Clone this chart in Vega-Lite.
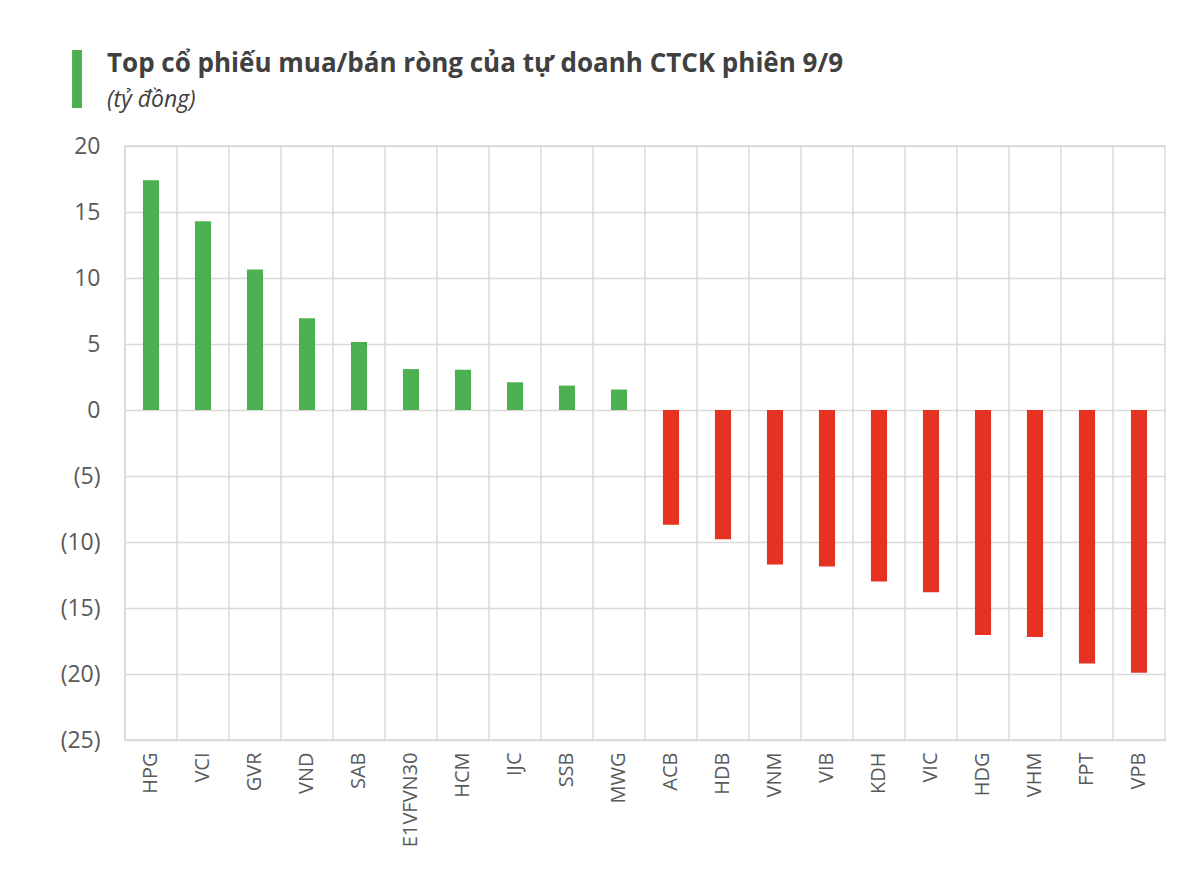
{
  "$schema": "https://vega.github.io/schema/vega-lite/v6.json",
  "width": 1040,
  "height": 594,
  "autosize": {"type": "none"},
  "padding": {"left": 125, "top": 146, "right": 35, "bottom": 143},
  "background": "white",
  "config": {
    "view": {"stroke": "#d9d9d9", "strokeWidth": 1.5},
    "font": "Open Sans"
  },
  "title": {
    "text": "Top cổ phiếu mua/bán ròng của tự doanh CTCK phiên 9/9",
    "subtitle": "(tỷ đồng)",
    "anchor": "start",
    "frame": "group",
    "dx": -18,
    "offset": -62,
    "font": "Open Sans",
    "fontSize": 26,
    "fontWeight": "bold",
    "color": "#404040",
    "subtitleFont": "Open Sans",
    "subtitleFontSize": 23,
    "subtitleFontStyle": "italic",
    "subtitleColor": "#404040",
    "subtitlePadding": 12
  },
  "data": {
    "values": [
      {"ticker": "HPG", "value": 17.4, "side": "mua"},
      {"ticker": "VCI", "value": 14.3, "side": "mua"},
      {"ticker": "GVR", "value": 10.65, "side": "mua"},
      {"ticker": "VND", "value": 6.95, "side": "mua"},
      {"ticker": "SAB", "value": 5.15, "side": "mua"},
      {"ticker": "E1VFVN30", "value": 3.1, "side": "mua"},
      {"ticker": "HCM", "value": 3.05, "side": "mua"},
      {"ticker": "IJC", "value": 2.1, "side": "mua"},
      {"ticker": "SSB", "value": 1.85, "side": "mua"},
      {"ticker": "MWG", "value": 1.55, "side": "mua"},
      {"ticker": "ACB", "value": -8.7, "side": "bán"},
      {"ticker": "HDB", "value": -9.8, "side": "bán"},
      {"ticker": "VNM", "value": -11.7, "side": "bán"},
      {"ticker": "VIB", "value": -11.85, "side": "bán"},
      {"ticker": "KDH", "value": -13.0, "side": "bán"},
      {"ticker": "VIC", "value": -13.8, "side": "bán"},
      {"ticker": "HDG", "value": -17.05, "side": "bán"},
      {"ticker": "VHM", "value": -17.2, "side": "bán"},
      {"ticker": "FPT", "value": -19.2, "side": "bán"},
      {"ticker": "VPB", "value": -19.9, "side": "bán"}
    ]
  },
  "layer": [
    {
      "mark": {"type": "rule", "color": "#d9d9d9", "strokeWidth": 1.5},
      "encoding": {
        "x": {"field": "ticker", "type": "nominal", "sort": null, "bandPosition": 0}
      }
    },
    {
      "mark": {"type": "bar", "width": {"band": 0.31}},
      "encoding": {
        "x": {
          "field": "ticker",
          "type": "nominal",
          "sort": null,
          "scale": {"paddingInner": 0, "paddingOuter": 0},
          "axis": {
            "title": null,
            "labelAngle": -90,
            "labelFontSize": 20,
            "labelColor": "#595959",
            "labelPadding": 12,
            "ticks": false,
            "domain": false,
            "grid": false
          }
        },
        "y": {
          "field": "value",
          "type": "quantitative",
          "scale": {"domain": [-25, 20], "nice": false, "zero": false},
          "axis": {
            "title": null,
            "values": [-25, -20, -15, -10, -5, 0, 5, 10, 15, 20],
            "labelExpr": "datum.value < 0 ? '(' + format(-datum.value, 'd') + ')' : format(datum.value, 'd')",
            "labelFontSize": 23,
            "labelColor": "#595959",
            "labelPadding": 25,
            "ticks": false,
            "domain": false,
            "grid": true,
            "gridColor": "#d9d9d9",
            "gridWidth": 1.5
          }
        },
        "color": {
          "field": "side",
          "type": "nominal",
          "scale": {"domain": ["mua", "bán"], "range": ["#4caf50", "#e53222"]},
          "legend": {
            "values": ["mua"],
            "title": null,
            "orient": "none",
            "legendX": -77,
            "legendY": -96,
            "padding": 0,
            "symbolType": "M-0.17,-1L0.17,-1L0.17,1L-0.17,1Z",
            "symbolSize": 3364,
            "symbolStrokeWidth": 0,
            "symbolOpacity": 1,
            "labelExpr": "''",
            "labelFontSize": 1
          }
        }
      }
    }
  ]
}
